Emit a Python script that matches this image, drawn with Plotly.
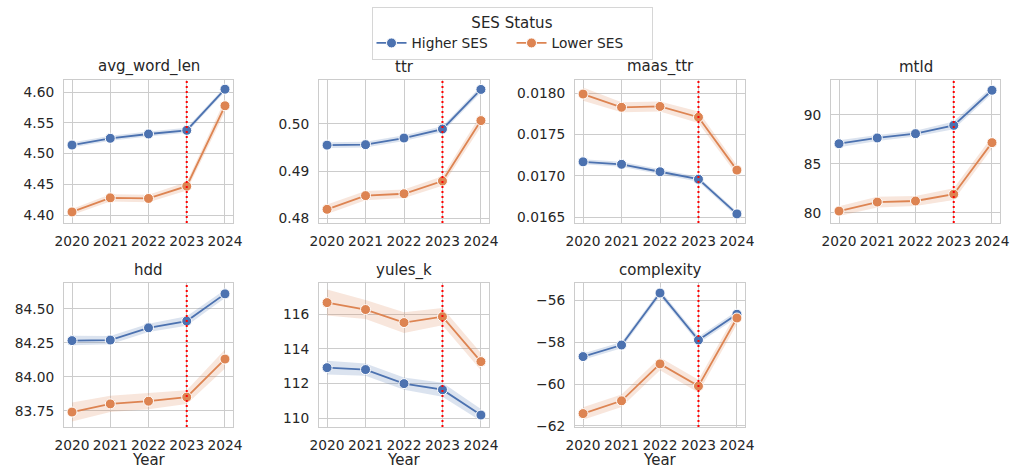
import plotly.graph_objects as go

years = [2020, 2021, 2022, 2023, 2024]
series_names = ["Higher SES", "Lower SES"]
metric_names = ["avg_word_len", "ttr", "maas_ttr", "mtld", "hdd", "yules_k", "complexity"]

# mean values per metric (Higher SES, Lower SES)
avg_word_len_high = [4.514, 4.525, 4.532, 4.538, 4.605]
avg_word_len_low = [4.405, 4.428, 4.427, 4.447, 4.578]
ttr_high = [0.4955, 0.4956, 0.4970, 0.4989, 0.5073]
ttr_low = [0.4819, 0.4848, 0.4852, 0.4879, 0.5007]
maas_ttr_high = [0.01717, 0.01714, 0.01705, 0.01696, 0.01654]
maas_ttr_low = [0.01799, 0.01783, 0.01784, 0.01771, 0.01707]
mtld_high = [87.06, 87.65, 88.09, 88.94, 92.53]
mtld_low = [80.17, 81.09, 81.20, 81.90, 87.17]
hdd_high = [84.266, 84.270, 84.360, 84.410, 84.610]
hdd_low = [83.740, 83.800, 83.820, 83.850, 84.130]
yules_k_high = [112.92, 112.81, 112.00, 111.65, 110.19]
yules_k_low = [116.67, 116.27, 115.52, 115.86, 113.27]
complexity_high = [-58.69, -58.14, -55.66, -57.90, -56.67]
complexity_low = [-61.41, -60.80, -59.04, -60.10, -56.85]

# confidence band half-widths
avg_word_len_high_ci = [0.004, 0.004, 0.004, 0.004, 0.004]
avg_word_len_low_ci = [0.005, 0.006, 0.006, 0.007, 0.010]
ttr_high_ci = [0.0006, 0.0006, 0.0006, 0.0006, 0.0007]
ttr_low_ci = [0.0010, 0.0010, 0.0009, 0.0010, 0.0013]
maas_ttr_high_ci = [0.00003, 0.00003, 0.00003, 0.00003, 0.00003]
maas_ttr_low_ci = [0.00008, 0.00006, 0.00006, 0.00007, 0.00006]
mtld_high_ci = [0.35, 0.30, 0.30, 0.40, 0.35]
mtld_low_ci = [0.50, 0.55, 0.50, 0.60, 0.60]
hdd_high_ci = [0.035, 0.030, 0.030, 0.035, 0.030]
hdd_low_ci = [0.070, 0.060, 0.060, 0.050, 0.070]
yules_k_high_ci = [0.40, 0.35, 0.35, 0.40, 0.35]
yules_k_low_ci = [0.75, 0.55, 0.60, 0.50, 0.50]
complexity_high_ci = [0.15, 0.15, 0.15, 0.15, 0.15]
complexity_low_ci = [0.30, 0.30, 0.30, 0.30, 0.30]

# y tick values
avg_word_len_ticks = [4.40, 4.45, 4.50, 4.55, 4.60]
ttr_ticks = [0.48, 0.49, 0.50]
maas_ttr_ticks = [0.0165, 0.0170, 0.0175, 0.0180]
mtld_ticks = [80, 85, 90]
hdd_ticks = [83.75, 84.00, 84.25, 84.50]
yules_k_ticks = [110, 112, 114, 116]
complexity_ticks = [-62, -60, -58, -56]

event_year = 2023

data_high = [avg_word_len_high, ttr_high, maas_ttr_high, mtld_high, hdd_high, yules_k_high, complexity_high]
data_low = [avg_word_len_low, ttr_low, maas_ttr_low, mtld_low, hdd_low, yules_k_low, complexity_low]
ci_high = [avg_word_len_high_ci, ttr_high_ci, maas_ttr_high_ci, mtld_high_ci, hdd_high_ci, yules_k_high_ci, complexity_high_ci]
ci_low = [avg_word_len_low_ci, ttr_low_ci, maas_ttr_low_ci, mtld_low_ci, hdd_low_ci, yules_k_low_ci, complexity_low_ci]
ticks = [avg_word_len_ticks, ttr_ticks, maas_ttr_ticks, mtld_ticks, hdd_ticks, yules_k_ticks, complexity_ticks]
tickformats = [".2f", ".2f", ".4f", "d", ".2f", "d", "d"]
yranges = [[4.387, 4.620], [0.4790, 0.5093], [0.01643, 0.01816], [78.95, 93.58],
           [83.63, 84.69], [109.5, 117.8], [-62.05, -55.18]]

W, H = 1011, 469
col_px = [(64, 233), (319, 489), (575, 745), (831, 1000)]
row_px = [(80, 223), (283, 427)]

colors = ["#4C72B0", "#DD8452"]
fills = ["rgba(76,114,176,0.2)", "rgba(221,132,82,0.2)"]
FONT = "DejaVu Sans"
TXT = "#262626"
GRID = "#cccccc"
TICK = 13.75
TITLE = 15

fig = go.Figure()
layout = dict(
    width=W, height=H,
    margin=dict(l=0, r=0, t=0, b=0),
    paper_bgcolor="white", plot_bgcolor="white",
    font=dict(family=FONT, size=TICK, color=TXT),
    showlegend=True,
    legend=dict(
        orientation="h", x=512 / W, xanchor="center", y=1 - 7 / H, yanchor="top",
        title=dict(text="SES Status", side="top center", font=dict(size=TITLE)),
        bgcolor="white", bordercolor="#d6d6d6", borderwidth=1,
        font=dict(size=TICK), entrywidth=95, entrywidthmode="pixels", tracegroupgap=0,
    ),
)
annotations = []
shapes = []

for i, name in enumerate(metric_names):
    r, c = divmod(i, 4)
    k = "" if i == 0 else str(i + 1)
    xa, ya = "x" + k, "y" + k
    x0, x1 = col_px[c]
    y0, y1 = row_px[r]
    layout["xaxis" + k] = dict(
        domain=[x0 / W, x1 / W], anchor=ya, range=[2019.79, 2024.21],
        tickvals=years, ticktext=[str(y) for y in years],
        showgrid=True, gridcolor=GRID, gridwidth=1,
        showline=True, linecolor=GRID, linewidth=1.2, mirror=True,
        ticks="outside", ticklen=5, tickcolor="rgba(0,0,0,0)",
        zeroline=False, automargin=False,
        tickfont=dict(size=TICK, color=TXT),
    )
    layout["yaxis" + k] = dict(
        domain=[1 - y1 / H, 1 - y0 / H], anchor=xa, range=yranges[i],
        tickvals=ticks[i], tickformat=tickformats[i],
        showgrid=True, gridcolor=GRID, gridwidth=1,
        showline=True, linecolor=GRID, linewidth=1.2, mirror=True,
        ticks="outside", ticklen=6, tickcolor="rgba(0,0,0,0)",
        zeroline=False, automargin=False,
        tickfont=dict(size=TICK, color=TXT),
    )
    annotations.append(dict(
        text=name, xref="paper", yref="paper", x=(x0 + x1) / 2 / W, y=1 - (y0 - 13) / H,
        xanchor="center", yanchor="middle", showarrow=False, font=dict(size=TITLE, color=TXT),
    ))
    if r == 1:
        annotations.append(dict(
            text="Year", xref="paper", yref="paper", x=(x0 + x1) / 2 / W, y=1 - 460 / H,
            xanchor="center", yanchor="middle", showarrow=False, font=dict(size=TITLE, color=TXT),
        ))
    for s, (vals, ci) in enumerate([(data_high[i], ci_high[i]), (data_low[i], ci_low[i])]):
        upper = [v + e for v, e in zip(vals, ci)]
        lower = [v - e for v, e in zip(vals, ci)]
        fig.add_trace(go.Scatter(x=years, y=upper, xaxis=xa, yaxis=ya, mode="lines",
                                 line=dict(width=0), showlegend=False, hoverinfo="skip"))
        fig.add_trace(go.Scatter(x=years, y=lower, xaxis=xa, yaxis=ya, mode="lines",
                                 line=dict(width=0), fill="tonexty", fillcolor=fills[s],
                                 showlegend=False, hoverinfo="skip"))
    for s, vals in enumerate([data_high[i], data_low[i]]):
        fig.add_trace(go.Scatter(
            x=years, y=vals, xaxis=xa, yaxis=ya, mode="lines+markers",
            name=series_names[s], legendgroup=series_names[s], showlegend=(i == 0),
            line=dict(color=colors[s], width=1.8),
            marker=dict(color=colors[s], size=10, line=dict(color="white", width=1)),
        ))
    shapes.append(dict(type="line", xref=xa, yref=ya + " domain", x0=event_year, x1=event_year,
                       y0=0, y1=1, line=dict(color="red", width=2, dash="2px,3px"), layer="above"))

layout["annotations"] = annotations
layout["shapes"] = shapes
fig.update_layout(**layout)
fig.write_html("out.html", config={"displayModeBar": False},
               post_script="document.body.style.margin='0';document.body.style.overflow='hidden';")
